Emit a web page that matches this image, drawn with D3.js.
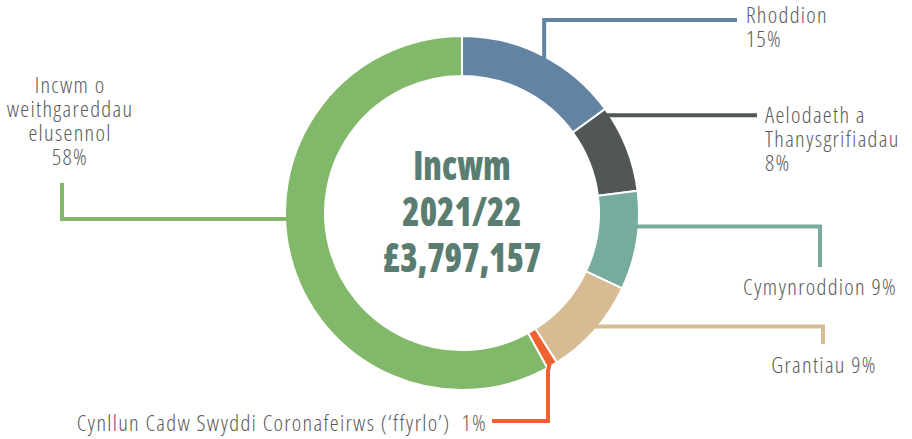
<!DOCTYPE html>
<html><head><meta charset="utf-8">
<script src="https://cdn.jsdelivr.net/npm/d3@7"></script>
<style>
  body { margin: 0; background: #fff; }
  .lbl { font-family: "Open Sans", sans-serif; font-stretch: 75%; font-weight: 300; font-size: 22.5px; letter-spacing: 1.3px; fill: #5b5b5b; }
  .title { font-family: "Open Sans", sans-serif; font-stretch: 75%; font-weight: 800; font-size: 40px; fill: #5a7d72; }
</style>
</head><body>
<div id="chart"></div>
<script>
// data
var categories = ["Rhoddion", "Aelodaeth a Thanysgrifiadau", "Cymynroddion", "Grantiau",
  "Cynllun Cadw Swyddi Coronafeirws (‘ffyrlo’)", "Incwm o weithgareddau elusennol"];
var shares = [15, 8, 9, 9, 1, 58];
var colours = ["#6383a3", "#515757", "#77ab9e", "#d7bb92", "#ef6131", "#82b869"];
var titleLines = ["Incwm", "2021/22", "£3,797,157"];

var width = 912, height = 439;
var cx = 462, cy = 213;
var outerR = 177, innerR = 137;

var svg = d3.select("#chart").append("svg")
  .attr("width", width)
  .attr("height", height);

var g = svg.append("g").attr("transform", "translate(" + cx + "," + cy + ")");

var pie = d3.pie().sort(null).value(function(d) { return d; });
var arcs = pie(shares);
var arc = d3.arc().innerRadius(innerR).outerRadius(outerR);

g.selectAll("path.slice").data(arcs).enter()
  .append("path")
    .attr("class", "slice")
    .attr("d", arc)
    .attr("fill", function(d, i) { return colours[i]; })
    .attr("stroke", "#fff")
    .attr("stroke-width", 2);

// point on the ring at a given angle (deg, clockwise from top)
function ringPoint(deg, r) {
  var a = deg * Math.PI / 180;
  return [r * Math.sin(a), -r * Math.cos(a)];
}

// leader lines: start angle on ring, then elbows (relative to chart centre)
var leaders = [
  { a: 28, pts: function(p) { return [p, [p[0], 20 - cy], [737 - cx, 20 - cy]]; } },
  { a: 56, pts: function(p) { return [[p[0] - 6, p[1]], [757 - cx, p[1]]]; } },
  { a: 94.4, pts: function(p) { return [p, [820 - cx, p[1]], [820 - cx, 267 - cy]]; } },
  { a: 130.4, pts: function(p) { return [p, [823 - cx, p[1]], [823 - cx, 344 - cy]]; } },
  { a: 150, pts: function(p) { return [p, [548 - cx, 371 - cy], [548 - cx, 421 - cy], [492 - cx, 421 - cy]]; } },
  { a: 268, pts: function(p) { return [p, [62 - cx, p[1]], [62 - cx, 183 - cy]]; } }
];

var line = d3.line();
g.selectAll("path.leader").data(leaders).enter()
  .append("path")
    .attr("class", "leader")
    .attr("d", function(d) { return line(d.pts(ringPoint(d.a, outerR - 2))); })
    .attr("fill", "none")
    .attr("stroke", function(d, i) { return colours[i]; })
    .attr("stroke-width", 4)
    .attr("stroke-linejoin", "miter");

// labels
var labels = [
  { x: 746, y: 23, anchor: "start", lines: ["Rhoddion", shares[0] + "%"] },
  { x: 765, y: 123, anchor: "start", lines: ["Aelodaeth a", "Thanysgrifiadau", shares[1] + "%"] },
  { x: 820, y: 295, anchor: "middle", lines: [categories[2] + " " + shares[2] + "%"] },
  { x: 824, y: 373, anchor: "middle", lines: [categories[3] + " " + shares[3] + "%"] },
  { x: 487, y: 431, anchor: "end", lines: [categories[4] + "\u00a0\u00a0" + shares[4] + "%"] },
  { x: 70, y: 93, anchor: "middle", lines: ["Incwm o", "weithgareddau", "elusennol", shares[5] + "%"] }
];

labels.forEach(function(l) {
  var t = svg.append("text").attr("class", "lbl")
    .attr("x", l.x).attr("y", l.y)
    .attr("text-anchor", l.anchor);
  t.selectAll("tspan").data(l.lines).enter()
    .append("tspan")
      .attr("x", l.x)
      .attr("dy", function(d, i) { return i === 0 ? 0 : 24; })
      .text(function(d) { return d; });
});

// centre title, squeezed horizontally like the condensed original
svg.append("g").selectAll("text").data(titleLines).enter()
  .append("text")
    .attr("class", "title")
    .attr("transform", function(d, i) { return "translate(" + cx + "," + (180 + i * 46) + ") scale(0.88,1)"; })
    .attr("text-anchor", "middle")
    .text(function(d) { return d; });
</script>
</body></html>
